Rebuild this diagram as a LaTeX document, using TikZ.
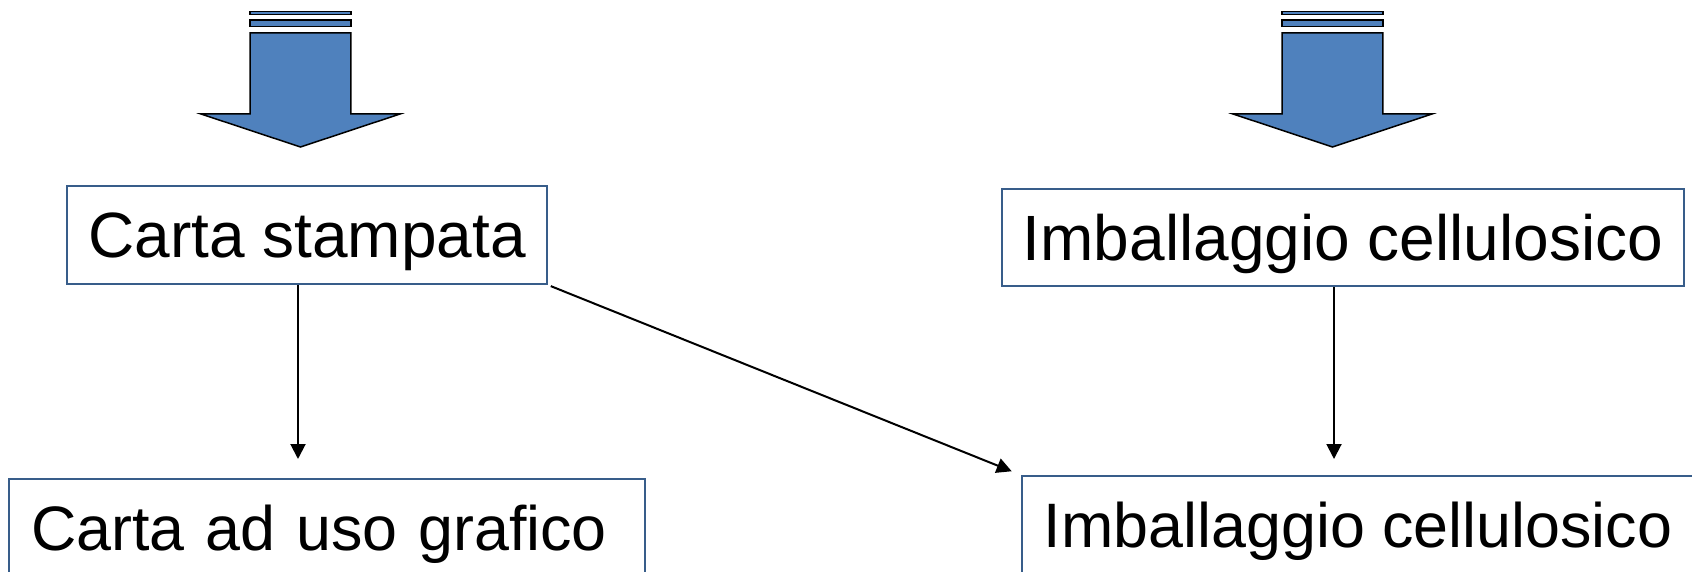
\documentclass[tikz,border=0pt]{standalone}
\usepackage{fontspec}
\setmainfont{Liberation Sans}
\usepackage{xcolor}
\usetikzlibrary{arrows.meta}
\definecolor{boxline}{HTML}{385D8A}
\definecolor{blockfill}{HTML}{4F81BD}
\newcommand{\stripedarrow}[2][]{
  \begin{scope}[shift={(#2,0)},line width=1.5pt,#1]
    \filldraw[fill=blockfill] (-50.4,11.4) rectangle (50.4,14.6);
    \filldraw[fill=blockfill] (-50.4,20) rectangle (50.4,26.6);
    \filldraw[fill=blockfill] (-50.4,32.8)--(50.4,32.8)--(50.4,114)--(99.5,114)
      --(0,147)--(-99.5,114)--(-50.4,114)--cycle;
  \end{scope}
}

\begin{document}
\begin{tikzpicture}[x=1pt,y=-1pt,
    font=\fontsize{64}{76}\selectfont,
    cartbox/.style={draw=boxline,line width=2pt,fill=white,inner sep=0pt,
      text height=46pt,text depth=0pt},
    lower/.style={font=\fontsize{62.8}{75}\selectfont,text height=45pt},
    conn/.style={line width=2pt,-{Triangle[width=15pt,length=15pt]}}]
  \useasboundingbox (0,0) rectangle (1692,572);
  \clip (0,0) rectangle (1692,572);
  \stripedarrow{300.5}
  \stripedarrow{1332.5}
  \coordinate (L) at (298,147);
  \coordinate (R) at (1334,147);
  \node[cartbox,minimum width=480,minimum height=98] (A) at (307,235) {Carta stampata};
  \node[cartbox,minimum width=682,minimum height=97] (B) at (1343,237.5) {Imballaggio cellulosico};
  \node[cartbox,lower,minimum height=98,text width=592,align=left,inner xsep=22] (C) at (327,528) {Carta ad uso grafico};
  \node[cartbox,lower,minimum width=672,minimum height=98] (D) at (1358,525) {Imballaggio cellulosico};
  \draw[conn,shorten >=19pt] (A.south -| L) -- (C.north -| L);
  \draw[conn,shorten >=16pt] (B.south -| R) -- (D.north -| R);
  \draw[conn,shorten <=3pt,shorten >=10pt] (A.south east) -- (D.north west);
\end{tikzpicture}
\end{document}
